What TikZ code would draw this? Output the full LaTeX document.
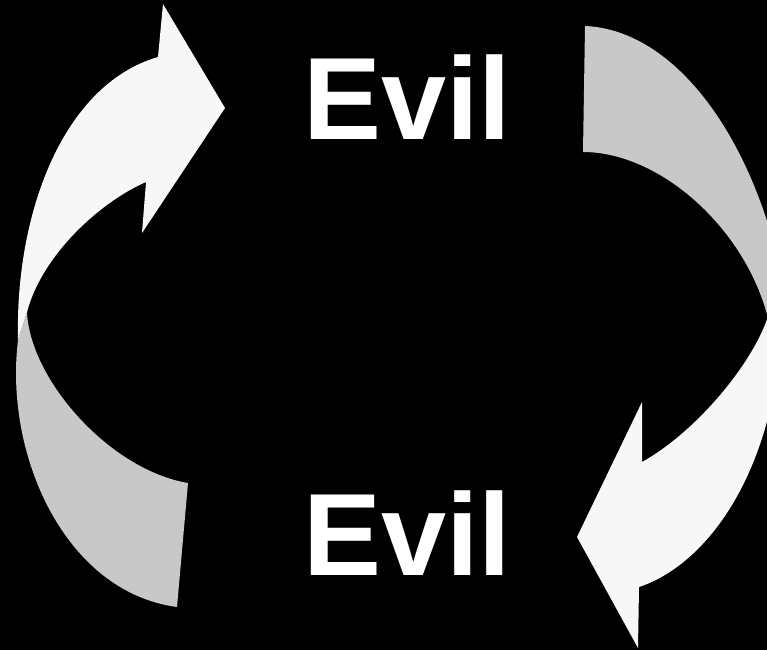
\documentclass[tikz,border=0pt]{standalone}
\usepackage{fontspec}
\setmainfont{Liberation Sans}
\definecolor{arrowfront}{HTML}{F7F7F7}
\definecolor{arrowback}{HTML}{C8C8C8}
\begin{document}
\begin{tikzpicture}[x=1pt, y=-1pt,
    front/.style={fill=arrowfront},
    back/.style={fill=arrowback},
    word/.style={text=white, inner sep=0pt, anchor=base west,
      font=\bfseries\fontsize{117}{117}\selectfont}]
  % background and frame
  \fill[black] (0,0) rectangle (767,650);
  \useasboundingbox (0,0) rectangle (767,650);
  \clip (0,0) rectangle (767,650);
  % left arrow: grey back side at the bottom
  \fill[back] (27,312) -- (18,340) .. controls (4,455) and (65,592) .. (177,607)
    -- (188,483) .. controls (110,470) and (30,380) .. (27,312) -- cycle;
  % left arrow: white front side with the head
  \fill[front] (18,340) .. controls (15,215) and (62,85) .. (158,57)
    -- (163,4) -- (225,108) -- (142,233) -- (146,182)
    .. controls (100,202) and (42,255) .. (27,312) -- cycle;
  % right arrow: grey back side at the top
  \fill[back] (585,26) .. controls (680,30) and (765,150) .. (790,320)
    -- (768,318) .. controls (745,228) and (660,152) .. (583,152) -- cycle;
  % right arrow: white front side with the head
  \fill[front] (577,537) -- (642,402) -- (642,462)
    .. controls (700,430) and (765,350) .. (772,300)
    -- (790,300) -- (782,330)
    .. controls (772,478) and (705,565) .. (639,587)
    -- (638,648) -- cycle;
  % the two words
  \node[word] (evilTop) at (303,139) {Evil};
  \node[word] (evilBottom) at (303,575) {Evil};
\end{tikzpicture}
\end{document}
